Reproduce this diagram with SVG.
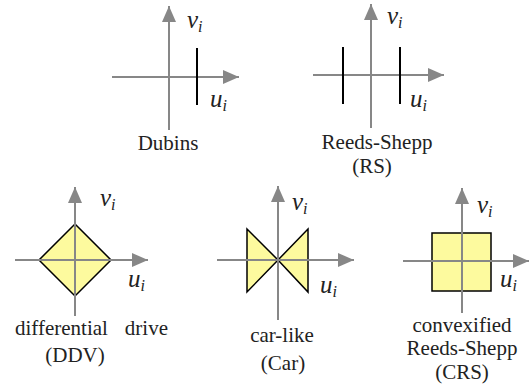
<svg xmlns="http://www.w3.org/2000/svg" width="532" height="385" viewBox="0 0 532 385">
<style>
.ax{stroke:#878787;stroke-width:2;fill:none;marker-end:url(#ah)}
.bl{stroke:#000;stroke-width:2;fill:none}
.reg{fill:#fdfa9e;stroke:#000;stroke-width:1.5}
text{font-family:"Liberation Serif","Times New Roman",serif;fill:#222}
.lbl{font-size:21px;text-anchor:middle}
.m{font-style:italic;font-size:25px}
.s{font-size:16px}
</style>
<defs>
<marker id="ah" viewBox="0 0 16 14" refX="16" refY="7" markerWidth="16" markerHeight="14" markerUnits="userSpaceOnUse" orient="auto">
<path d="M0,0 L16,7 L0,14 z" fill="#878787"/>
</marker>
</defs>
<rect width="532" height="385" fill="#fff"/>

<g id="dubins">
<line class="ax" x1="112" y1="77" x2="239" y2="77"/>
<line class="ax" x1="169" y1="130" x2="169" y2="6"/>
<line class="bl" x1="197" y1="48" x2="197" y2="105"/>
<text class="m" x="187" y="28">v<tspan class="s" dy="4">i</tspan></text>
<text class="m" x="210" y="107">u<tspan class="s" dy="4">i</tspan></text>
<text class="lbl" x="168" y="150">Dubins</text>
</g>

<g id="rs">
<line class="ax" x1="313" y1="75" x2="444" y2="75"/>
<line class="ax" x1="371" y1="128" x2="371" y2="4"/>
<line class="bl" x1="343" y1="47" x2="343" y2="104"/>
<line class="bl" x1="400" y1="47" x2="400" y2="104"/>
<text class="m" x="387" y="24">v<tspan class="s" dy="4">i</tspan></text>
<text class="m" x="410" y="107">u<tspan class="s" dy="4">i</tspan></text>
<text class="lbl" x="377" y="149">Reeds-Shepp</text>
<text class="lbl" x="372" y="173">(RS)</text>
</g>

<g id="ddv">
<polygon class="reg" points="75,224 111,260 75,296 39,260"/>
<line class="ax" x1="15" y1="260" x2="148" y2="260"/>
<line class="ax" x1="75" y1="316" x2="75" y2="187"/>
<text class="m" x="100" y="206">v<tspan class="s" dy="4">i</tspan></text>
<text class="m" x="128" y="287">u<tspan class="s" dy="4">i</tspan></text>
<text class="lbl" x="15" y="335" style="text-anchor:start">differential</text>
<text class="lbl" x="168" y="335" style="text-anchor:end">drive</text>
<text class="lbl" x="75" y="362">(DDV)</text>
</g>

<g id="car">
<polygon class="reg" points="247,229 278,260 247,292"/>
<polygon class="reg" points="308,229 278,260 308,292"/>
<line class="ax" x1="217" y1="260" x2="354" y2="260"/>
<line class="ax" x1="278" y1="320" x2="278" y2="186"/>
<text class="m" x="292" y="210">v<tspan class="s" dy="4">i</tspan></text>
<text class="m" x="320" y="293">u<tspan class="s" dy="4">i</tspan></text>
<text class="lbl" x="282" y="342">car-like</text>
<text class="lbl" x="283" y="370">(Car)</text>
</g>

<g id="crs">
<rect class="reg" x="432" y="233" width="59" height="58"/>
<line class="ax" x1="403" y1="261" x2="529" y2="261"/>
<line class="ax" x1="462" y1="313" x2="462" y2="188"/>
<text class="m" x="477" y="213">v<tspan class="s" dy="4">i</tspan></text>
<text class="m" x="500" y="287">u<tspan class="s" dy="4">i</tspan></text>
<text class="lbl" x="462" y="332">convexified</text>
<text class="lbl" x="462" y="355">Reeds-Shepp</text>
<text class="lbl" x="462" y="379">(CRS)</text>
</g>
</svg>
